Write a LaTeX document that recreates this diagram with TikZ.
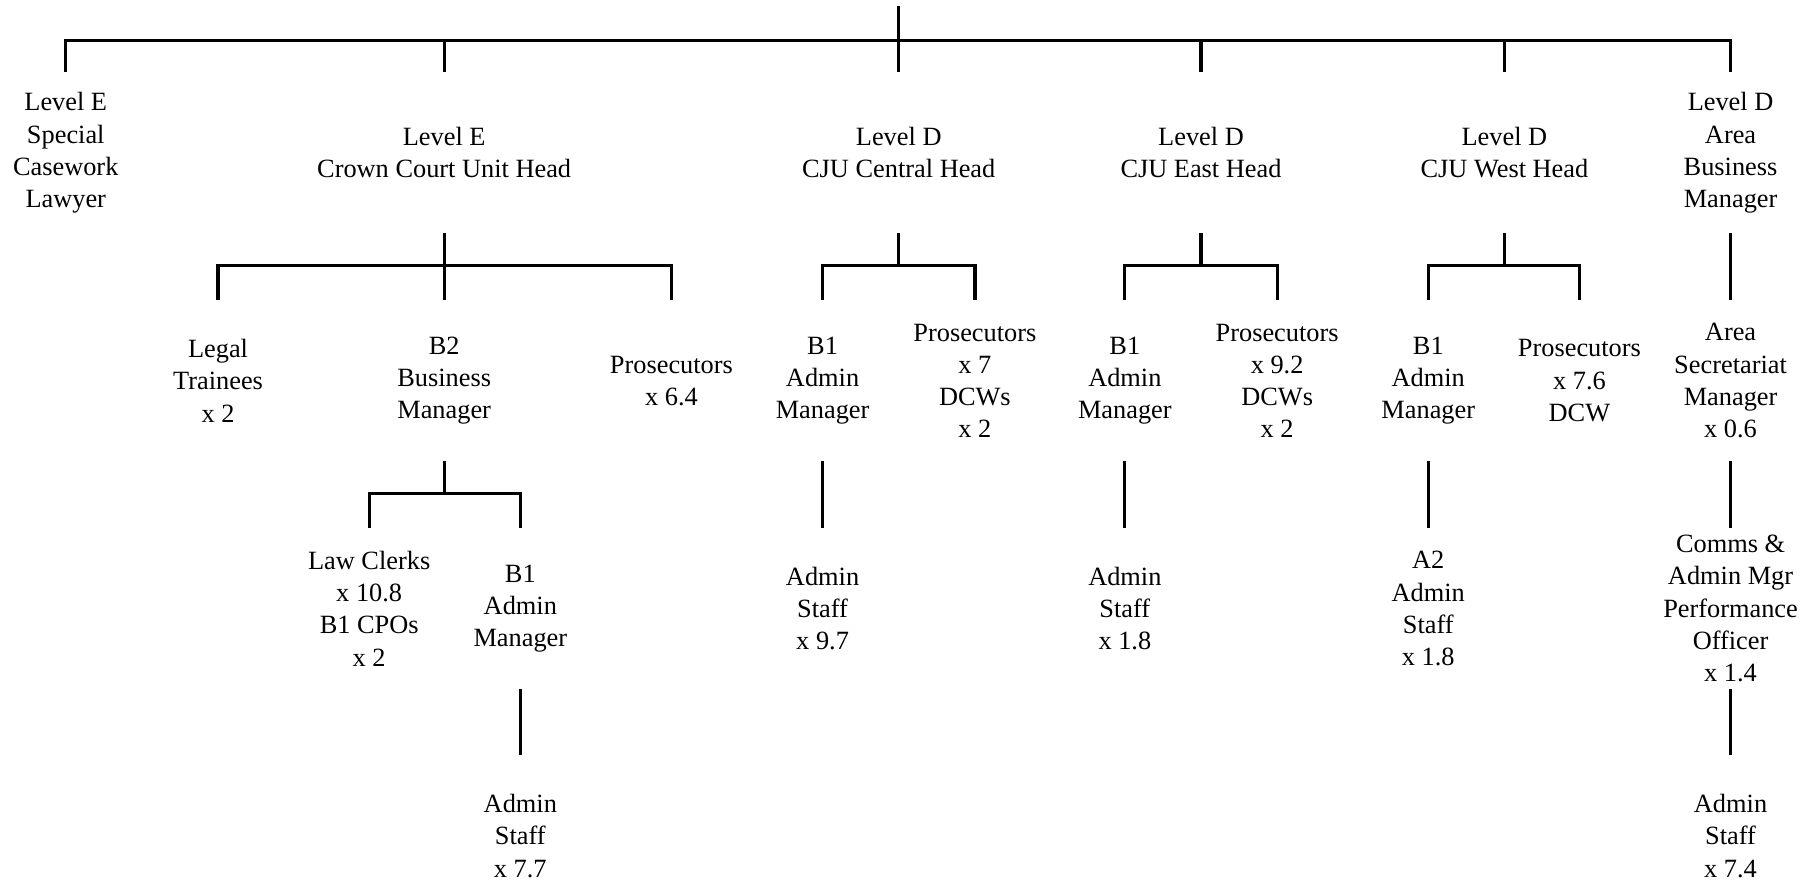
\documentclass[tikz,border=0pt]{standalone}
\usepackage{fontspec}
\setmainfont{Liberation Serif}
\usepackage{tikz}

\tikzset{
  post/.style={minimum height=2.78cm, inner sep=0pt, align=center, font=\fontsize{13}{15.9}\selectfont},
  link/.style={line width=1.6pt}
}

\begin{document}
\begin{tikzpicture}[x=0.02cm, y=-0.02cm]
        \useasboundingbox (0,0) rectangle (1568,763);

        \coordinate (root) at (779,5);
        \coordinate (bus) at (779,35);

        \node[post] (sc)   at (57,132.5)   {Level E\\Special\\Casework\\Lawyer};
        \node[post] (cc)   at (385,132.5)  {Level E\\Crown Court Unit Head};
        \node[post] (cen)  at (779,132.5)  {Level D\\CJU Central Head};
        \node[post] (east) at (1041,132.5) {Level D\\CJU East Head};
        \node[post] (west) at (1304,132.5) {Level D\\CJU West Head};
        \node[post] (abm)  at (1500,132.5) {Level D\\Area\\Business\\Manager};

        \node[post] (lt)    at (189,330)  {Legal\\Trainees\\x 2};
        \node[post] (b2)    at (385,330)  {B2\\Business\\Manager};
        \node[post] (pcc)   at (582,330)  {Prosecutors\\x 6.4};
        \node[post] (b1cen) at (713,330)  {B1\\Admin\\Manager};
        \node[post] (pcen)  at (845,330)  {Prosecutors\\x 7\\DCWs\\x 2};
        \node[post] (b1e)   at (975,330)  {B1\\Admin\\Manager};
        \node[post] (pe)    at (1107,330) {Prosecutors\\x 9.2\\DCWs\\x 2};
        \node[post] (b1w)   at (1238,330) {B1\\Admin\\Manager};
        \node[post] (pw)    at (1369,330) {Prosecutors\\x 7.6\\DCW};
        \node[post] (asm)   at (1500,330) {Area\\Secretariat\\Manager\\x 0.6};

        \node[post] (lc)    at (320,527.5)  {Law Clerks\\x 10.8\\B1 CPOs\\x 2};
        \node[post] (b1cc)  at (451,527.5)  {B1\\Admin\\Manager};
        \node[post] (scen)  at (713,527.5)  {Admin\\Staff\\x 9.7};
        \node[post] (se)    at (975,527.5)  {Admin\\Staff\\x 1.8};
        \node[post] (sw)    at (1238,527.5) {A2\\Admin\\Staff\\x 1.8};
        \node[post] (comms) at (1500,527.5) {Comms \&\\Admin Mgr\\Performance\\Officer\\x 1.4};

        \node[post] (scc)   at (451,724.5)  {Admin\\Staff\\x 7.7};
        \node[post] (sarea) at (1500,724.5) {Admin\\Staff\\x 7.4};

        \draw[link] (root) -- (bus);
        \foreach \n in {sc,cc,cen,east,west,abm}
            \draw[link] (bus) -| (\n.north);

        \path (cc.south) ++(0,28) coordinate (ccbus);
        \draw[link] (cc.south) -- (ccbus);
        \foreach \n in {lt,b2,pcc}
            \draw[link] (ccbus) -| (\n.north);

        \path (b2.south) ++(0,28) coordinate (b2bus);
        \draw[link] (b2.south) -- (b2bus);
        \foreach \n in {lc,b1cc}
            \draw[link] (b2bus) -| (\n.north);
        \draw[link] (b1cc.south) -- (scc.north);

        \path (cen.south) ++(0,28) coordinate (cenbus);
        \draw[link] (cen.south) -- (cenbus);
        \foreach \n in {b1cen,pcen}
            \draw[link] (cenbus) -| (\n.north);
        \draw[link] (b1cen.south) -- (scen.north);

        \path (east.south) ++(0,28) coordinate (ebus);
        \draw[link] (east.south) -- (ebus);
        \foreach \n in {b1e,pe}
            \draw[link] (ebus) -| (\n.north);
        \draw[link] (b1e.south) -- (se.north);

        \path (west.south) ++(0,28) coordinate (wbus);
        \draw[link] (west.south) -- (wbus);
        \foreach \n in {b1w,pw}
            \draw[link] (wbus) -| (\n.north);
        \draw[link] (b1w.south) -- (sw.north);

        \draw[link] (abm.south) -- (asm.north);
        \draw[link] (asm.south) -- (comms.north);
        \draw[link] (comms.south) -- (sarea.north);
\end{tikzpicture}
\end{document}
